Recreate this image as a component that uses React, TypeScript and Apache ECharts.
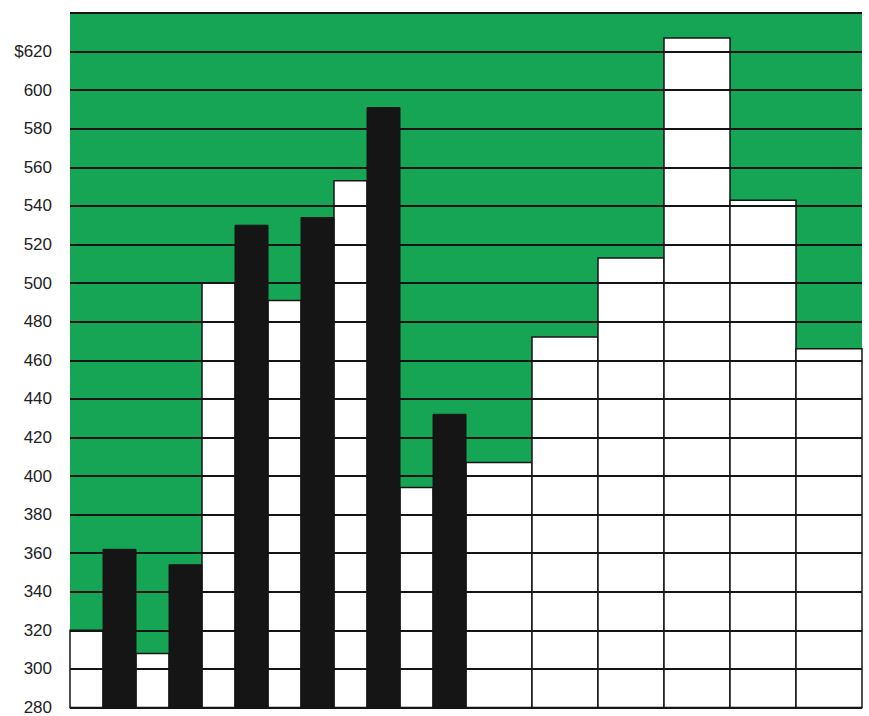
import React, { useEffect, useRef } from "react";
import * as echarts from "echarts";

// Bars in left-to-right order
const barValues = [320, 362, 308, 354, 500, 530, 491, 534, 553, 591, 394, 432, 407, 472, 513, 627, 543, 466];
const barKinds = ["white", "black", "white", "black", "white", "black", "white", "black", "white", "black", "white", "black", "white", "white", "white", "white", "white", "white"];
const barSpans = [1, 1, 1, 1, 1, 1, 1, 1, 1, 1, 1, 1, 2, 2, 2, 2, 2, 2];
const yTicks = [280, 300, 320, 340, 360, 380, 400, 420, 440, 460, 480, 500, 520, 540, 560, 580, 600, 620];

const Y_MIN = 280;
const Y_MAX = 640;

export default function App() {
  const ref = useRef<HTMLDivElement>(null);
  useEffect(() => {
    if (!ref.current) return;
    const chart = echarts.init(ref.current, null, { renderer: "svg" });

    let pos = 0;
    const whiteData: number[][] = [];
    const blackData: number[][] = [];
    barValues.forEach((v, i) => {
      const start = pos;
      const end = pos + barSpans[i];
      pos = end;
      if (barKinds[i] === "white") whiteData.push([start, end, v]);
      else blackData.push([start, end, v]);
    });
    const total = pos;

    const makeRender = (fill: string, stroke: string, lw: number) => (params: any, api: any) => {
      const x0 = api.value(0);
      const x1 = api.value(1);
      const v = api.value(2);
      const p0 = api.coord([x0, v]);
      const p1 = api.coord([x1, Y_MIN]);
      return {
        type: "rect",
        shape: { x: p0[0], y: p0[1], width: p1[0] - p0[0], height: p1[1] - p0[1] },
        style: { fill, stroke, lineWidth: lw },
      };
    };

    chart.setOption({
      animation: false,
      backgroundColor: "#ffffff",
      grid: {
        left: 70,
        right: 7,
        top: 13,
        bottom: 5,
        show: true,
        backgroundColor: "#16a554",
        borderWidth: 0,
      },
      xAxis: {
        type: "value",
        min: 0,
        max: total,
        show: false,
      },
      yAxis: {
        type: "value",
        min: Y_MIN,
        max: Y_MAX,
        interval: 20,
        z: 3,
        axisLine: { show: false },
        axisTick: { show: false },
        axisLabel: {
          margin: 18,
          fontFamily: "Liberation Sans, Arial, sans-serif",
          fontSize: 17,
          color: "#222222",
          formatter: (val: number) => {
            if (!yTicks.includes(val)) return "";
            return val === 620 ? "$620" : String(val);
          },
        },
        splitLine: { show: true, lineStyle: { color: "#151515", width: 2 } },
      },
      series: [
        {
          type: "custom",
          name: "white",
          z: 2,
          renderItem: makeRender("#ffffff", "#151515", 1.5),
          encode: { x: [0, 1], y: 2 },
          data: whiteData,
        },
        {
          type: "custom",
          name: "black",
          z: 5,
          renderItem: makeRender("#151515", "#151515", 1),
          encode: { x: [0, 1], y: 2 },
          data: blackData,
        },
      ],
    });
    return () => chart.dispose();
  }, []);
  return (
    <div
      ref={ref}
      style={{ position: "fixed", left: 0, top: 0, width: 869, height: 716 }}
    />
  );
}
